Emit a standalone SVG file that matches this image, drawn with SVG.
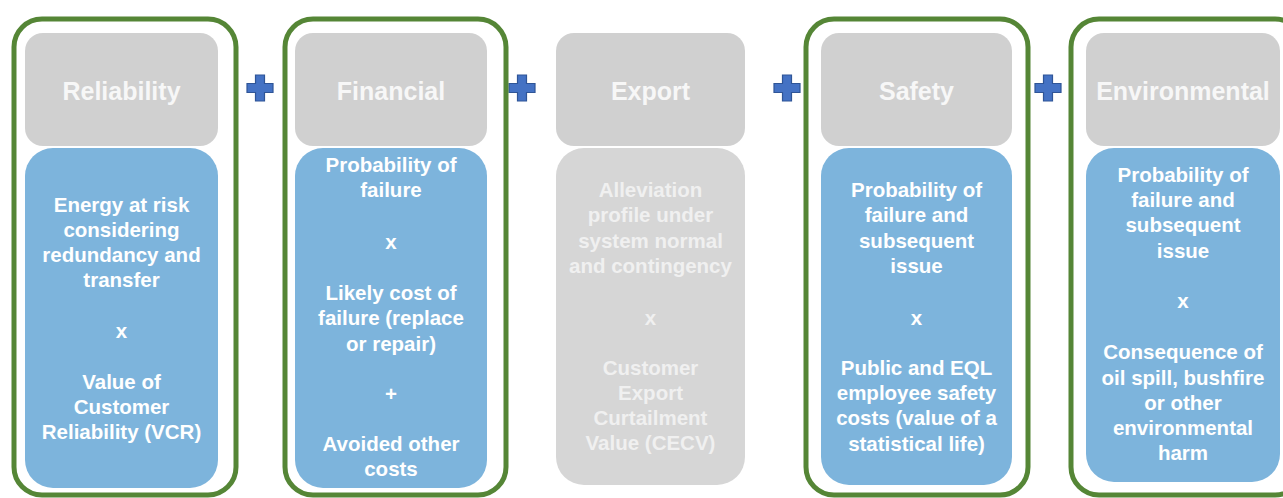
<svg xmlns="http://www.w3.org/2000/svg" width="1283" height="498" viewBox="0 0 1283 498">
<style>
.frame{fill:none;stroke:#558636;stroke-width:5}
.head{fill:#D0D0D0}
.body{fill:#7DB4DC}
.ebody{fill:#D6D6D6}
.ht{font-family:"Liberation Sans",Arial,sans-serif;font-weight:bold;font-size:25px;fill:#F7F7F7;text-anchor:middle}
.bt{font-family:"Liberation Sans",Arial,sans-serif;font-weight:bold;font-size:20.5px;fill:#FFFFFF;text-anchor:middle}
.et{font-family:"Liberation Sans",Arial,sans-serif;font-weight:bold;font-size:20.5px;fill:#F0F0F0;text-anchor:middle}
.plus{fill:#4472C4;stroke:#2F5597;stroke-width:1.2}
</style>
<defs>
<path id="p" class="plus" d="M-4.5,-13 H4.5 V-4.5 H13 V4.5 H4.5 V13 H-4.5 V4.5 H-13 V-4.5 H-4.5 Z"/>
</defs>
<rect width="1283" height="498" fill="#FFFFFF"/>
<g id="connectors">
<use href="#p" x="260" y="88"/>
<use href="#p" x="522" y="88"/>
<use href="#p" x="787" y="88"/>
<use href="#p" x="1048" y="88"/>
</g>
<g id="reliability">
<rect class="frame" x="14" y="19" width="222" height="476" rx="28"/>
<rect class="head" x="25" y="33" width="193" height="113" rx="18"/>
<rect class="body" x="25" y="148" width="193" height="340" rx="28"/>
<text class="ht" x="121.5" y="100">Reliability</text>
<text class="bt" x="121.5" y="212">Energy at risk</text>
<text class="bt" x="121.5" y="237">considering</text>
<text class="bt" x="121.5" y="262">redundancy and</text>
<text class="bt" x="121.5" y="287">transfer</text>
<text class="bt" x="121.5" y="338">x</text>
<text class="bt" x="121.5" y="389">Value of</text>
<text class="bt" x="121.5" y="414">Customer</text>
<text class="bt" x="121.5" y="439">Reliability (VCR)</text>
</g>
<g id="financial">
<rect class="frame" x="285" y="19" width="221" height="476" rx="28"/>
<rect class="head" x="295" y="33" width="192" height="113" rx="18"/>
<rect class="body" x="295" y="148" width="192" height="340" rx="28"/>
<text class="ht" x="391" y="100">Financial</text>
<text class="bt" x="391" y="172">Probability of</text>
<text class="bt" x="391" y="197">failure</text>
<text class="bt" x="391" y="249">x</text>
<text class="bt" x="391" y="300">Likely cost of</text>
<text class="bt" x="391" y="325">failure (replace</text>
<text class="bt" x="391" y="351">or repair)</text>
<text class="bt" x="391" y="401">+</text>
<text class="bt" x="391" y="451">Avoided other</text>
<text class="bt" x="391" y="476">costs</text>
</g>
<g id="export">
<rect class="head" x="556" y="33" width="189" height="113" rx="18"/>
<rect class="ebody" x="556" y="148" width="189" height="337" rx="28"/>
<text class="ht" x="650.5" y="100">Export</text>
<text class="et" x="650.5" y="197">Alleviation</text>
<text class="et" x="650.5" y="222">profile under</text>
<text class="et" x="650.5" y="248">system normal</text>
<text class="et" x="650.5" y="273">and contingency</text>
<text class="et" x="650.5" y="325">x</text>
<text class="et" x="650.5" y="375">Customer</text>
<text class="et" x="650.5" y="400">Export</text>
<text class="et" x="650.5" y="425">Curtailment</text>
<text class="et" x="650.5" y="450">Value (CECV)</text>
</g>
<g id="safety">
<rect class="frame" x="806" y="19" width="222" height="476" rx="28"/>
<rect class="head" x="821" y="33" width="191" height="113" rx="18"/>
<rect class="body" x="821" y="148" width="191" height="337" rx="28"/>
<text class="ht" x="916.5" y="100">Safety</text>
<text class="bt" x="916.5" y="197">Probability of</text>
<text class="bt" x="916.5" y="222">failure and</text>
<text class="bt" x="916.5" y="248">subsequent</text>
<text class="bt" x="916.5" y="273">issue</text>
<text class="bt" x="916.5" y="325">x</text>
<text class="bt" x="916.5" y="375">Public and EQL</text>
<text class="bt" x="916.5" y="400">employee safety</text>
<text class="bt" x="916.5" y="425">costs (value of a</text>
<text class="bt" x="916.5" y="451">statistical life)</text>
</g>
<g id="environmental">
<rect class="frame" x="1071" y="19" width="232" height="476" rx="28"/>
<rect class="head" x="1086" y="33" width="194" height="113" rx="18"/>
<rect class="body" x="1086" y="148" width="194" height="334" rx="28"/>
<text class="ht" x="1183" y="100">Environmental</text>
<text class="bt" x="1183" y="182">Probability of</text>
<text class="bt" x="1183" y="207">failure and</text>
<text class="bt" x="1183" y="232">subsequent</text>
<text class="bt" x="1183" y="258">issue</text>
<text class="bt" x="1183" y="308">x</text>
<text class="bt" x="1183" y="359">Consequence of</text>
<text class="bt" x="1183" y="385">oil spill, bushfire</text>
<text class="bt" x="1183" y="410">or other</text>
<text class="bt" x="1183" y="435">environmental</text>
<text class="bt" x="1183" y="460">harm</text>
</g>
</svg>
